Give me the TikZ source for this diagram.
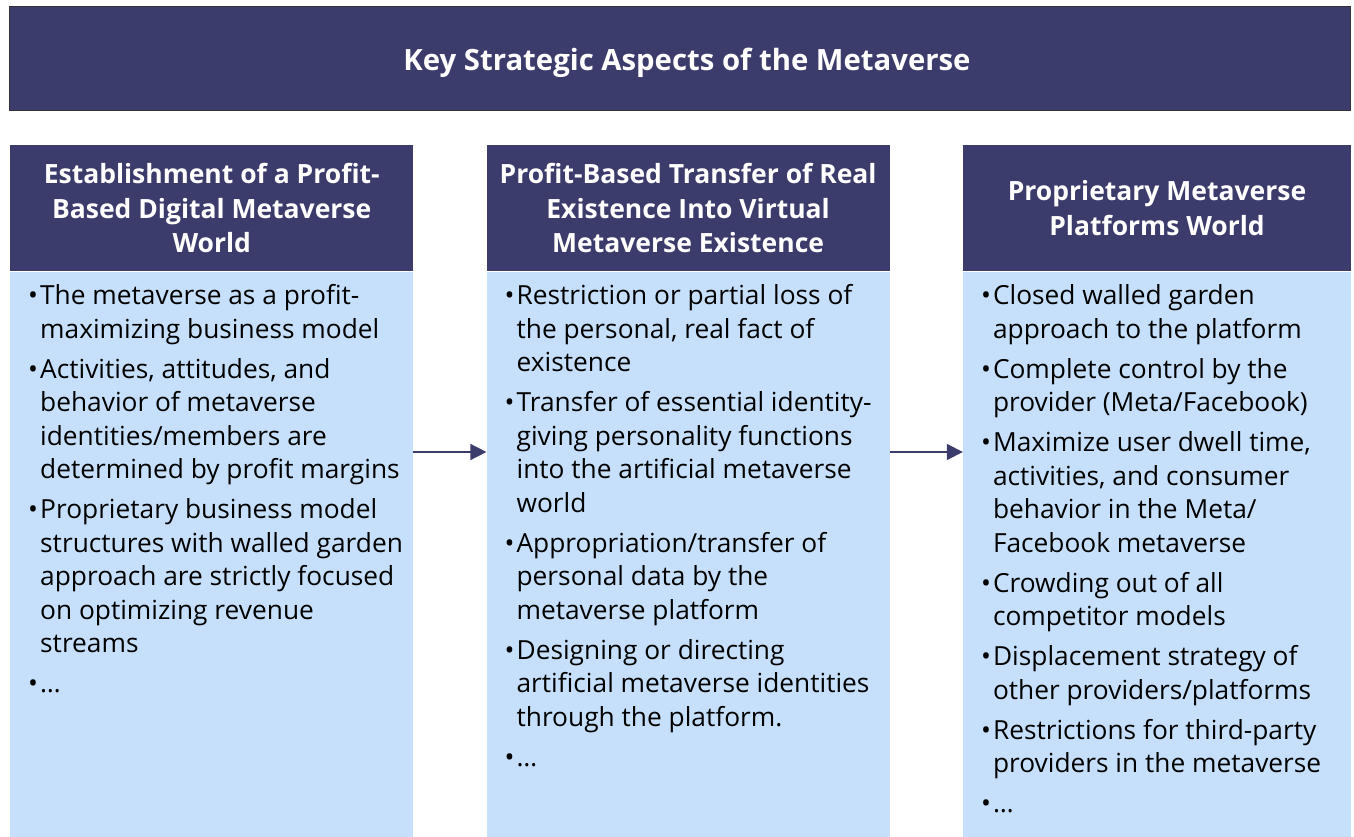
\documentclass[tikz,border=0pt]{standalone}
\usepackage{fontspec}
\setmainfont{Open Sans}
\usetikzlibrary{positioning,arrows.meta}

\definecolor{navy}{RGB}{60,60,108}
\definecolor{paleblue}{RGB}{198,224,252}

% bullet cell of a list row
\newcommand{\pt}{\textbullet}

\tikzset{
  titlebox/.style={draw=black!80, line width=0.8pt, fill=navy, minimum width=1341pt, minimum height=104pt, inner sep=0pt},
  titletext/.style={text=white, font=\bfseries\fontsize{29.3}{34}\selectfont, inner sep=0pt},
  headbox/.style={fill=navy, text=white, font=\bfseries\fontsize{26.5}{34.5}\selectfont, align=center,
    minimum width=403pt, minimum height=126pt, inner sep=0pt},
  bodybox/.style={fill=paleblue, minimum width=403pt, minimum height=566pt, inner sep=0pt},
  listtext/.style={inner sep=0pt, font=\fontsize{26.3}{33.5}\selectfont},
  flow/.style={navy, line width=1.6pt, -{Triangle[length=16pt,width=16pt]}}
}

\begin{document}
\begin{tikzpicture}[x=1pt,y=-1pt]
\useasboundingbox (0,0) rectangle (1354,837);

\node[titlebox] (title) at (679.5,58) {};
\node[titletext] (titlelabel) at (687,63) {Key Strategic Aspects of the Metaverse};

% column headers
\node[headbox, anchor=north west] (head1) at (10,145) {Establishment of a Profit-\\Based Digital Metaverse\\World};
\node[headbox, right=73pt of head1] (head2) {Profit-Based Transfer of Real\\Existence Into Virtual\\Metaverse Existence};
\node[headbox, right=73pt of head2, minimum width=388pt] (head3) {Proprietary Metaverse\\Platforms World};

% column bodies
\node[bodybox, below=0pt of head1] (body1) {};
\node[bodybox, below=0pt of head2] (body2) {};
\node[bodybox, below=0pt of head3, minimum width=388pt] (body3) {};

\node[listtext, below right=9.5pt and 18pt of body1.north west] (list1) {%
\begin{tabular}{@{}p{12pt}@{}l@{}}
\pt & The metaverse as a profit-\\
    & maximizing business model\\[6.5pt]
\pt & Activities, attitudes, and\\
    & behavior of metaverse\\
    & identities/members are\\
    & determined by profit margins\\[6.5pt]
\pt & Proprietary business model\\
    & structures with walled garden\\
    & approach are strictly focused\\
    & on optimizing revenue\\
    & streams\\[6.5pt]
\pt & \dots
\end{tabular}};
\node[listtext, below right=9.5pt and 18pt of body2.north west] (list2) {%
\begin{tabular}{@{}p{12pt}@{}l@{}}
\pt & Restriction or partial loss of\\
    & the personal, real fact of\\
    & existence\\[6.5pt]
\pt & Transfer of essential identity-\\
    & giving personality functions\\
    & into the artificial metaverse\\
    & world\\[6.5pt]
\pt & Appropriation/transfer of\\
    & personal data by the\\
    & metaverse platform\\[6.5pt]
\pt & Designing or directing\\
    & artificial metaverse identities\\
    & through the platform.\\[6.5pt]
\pt & \dots
\end{tabular}};
\node[listtext, below right=9.5pt and 18pt of body3.north west] (list3) {%
\begin{tabular}{@{}p{12pt}@{}l@{}}
\pt & Closed walled garden\\
    & approach to the platform\\[6.5pt]
\pt & Complete control by the\\
    & provider (Meta/Facebook)\\[6.5pt]
\pt & Maximize user dwell time,\\
    & activities, and consumer\\
    & behavior in the Meta/\\
    & Facebook metaverse\\[6.5pt]
\pt & Crowding out of all\\
    & competitor models\\[6.5pt]
\pt & Displacement strategy of\\
    & other providers/platforms\\[6.5pt]
\pt & Restrictions for third-party\\
    & providers in the metaverse\\[6.5pt]
\pt & \dots
\end{tabular}};

% arrows between the columns
\coordinate (flowrow) at (0,452);
\draw[flow] (body1.east |- flowrow) -- (body2.west |- flowrow);
\draw[flow] (body2.east |- flowrow) -- (body3.west |- flowrow);
\end{tikzpicture}
\end{document}
